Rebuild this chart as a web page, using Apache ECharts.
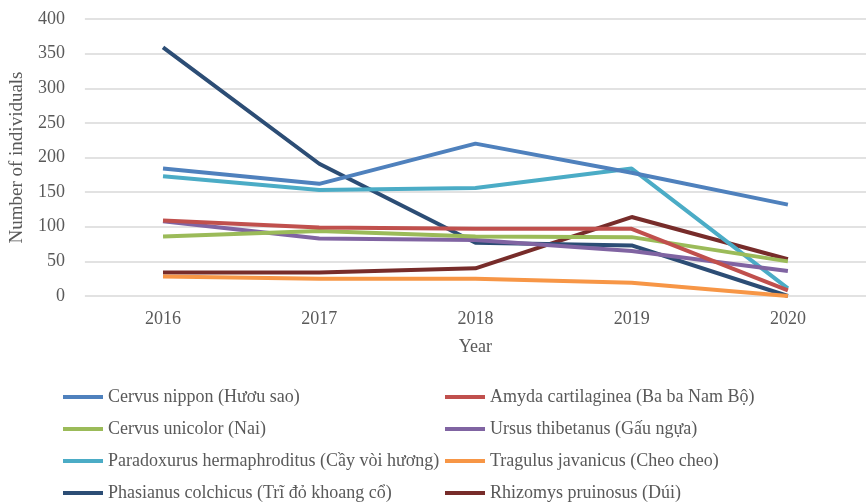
<!DOCTYPE html>
<html><head><meta charset="utf-8">
<script src="https://cdn.jsdelivr.net/npm/echarts@6/dist/echarts.min.js"></script>
<style>html,body{margin:0;padding:0;background:#fff}#c{width:866px;height:502px}</style>
</head><body><div id="c"></div>
<script>
var years = ['2016','2017','2018','2019','2020'];
var cervusNippon = [184,162,220,178,132];
var amyda = [109,99,97,97,8];
var cervusUnicolor = [86,94,86,85,50];
var ursus = [108,83,81,65,36];
var paradoxurus = [173,153,156,184,11];
var tragulus = [28,25,25,19,0];
var phasianus = [359,191,77,73,0];
var rhizomys = [34,34,40,114,53];
var names = ['Cervus nippon (Hươu sao)','Amyda cartilaginea (Ba ba Nam Bộ)','Cervus unicolor (Nai)','Ursus thibetanus (Gấu ngựa)','Paradoxurus hermaphroditus (Cầy vòi hương)','Tragulus javanicus (Cheo cheo)','Phasianus colchicus (Trĩ đỏ khoang cổ)','Rhizomys pruinosus (Dúi)'];
var dataSets = [cervusNippon,amyda,cervusUnicolor,ursus,paradoxurus,tragulus,phasianus,rhizomys];
var colors = ['#4F81BD','#C0504D','#9BBB59','#8064A2','#4BACC6','#F79646','#2C4D75','#772C2A'];
var font = 'Liberation Serif';
var txt = '#595959';
var series = names.map(function(n,i){
  return {name:n,type:'line',data:dataSets[i],showSymbol:false,symbol:'none',
    lineStyle:{width:4,color:colors[i]},itemStyle:{color:colors[i]},z:10-i};
});
var legendCommon = {orient:'vertical',icon:'rect',itemWidth:40,itemHeight:4,itemGap:14,padding:0,
  textStyle:{fontFamily:font,fontSize:18,color:txt,lineHeight:18},selectedMode:false,top:388};
var chart = echarts.init(document.getElementById('c'),null,{renderer:'canvas'});
chart.setOption({
  animation:false,
  color:colors,
  grid:{left:79,top:19,width:797,height:277,containLabel:false},
  xAxis:{type:'category',data:years,boundaryGap:true,name:'Year',nameLocation:'middle',nameGap:42,
    nameTextStyle:{fontFamily:font,fontSize:18,color:txt},
    axisLine:{show:false},axisTick:{show:false},
    axisLabel:{fontFamily:font,fontSize:18,color:txt,margin:14}},
  yAxis:{type:'value',min:0,max:400,interval:50,name:'Number of individuals',nameLocation:'middle',nameGap:49,
    nameTextStyle:{fontFamily:font,fontSize:19,color:txt},
    axisLine:{show:false},axisTick:{show:false},
    axisLabel:{fontFamily:font,fontSize:18,color:txt,margin:20},
    splitLine:{lineStyle:{color:'#d9d9d9',width:1.5}}},
  legend:[
    Object.assign({left:63,data:[names[0],names[2],names[4],names[6]]},legendCommon),
    Object.assign({left:445,data:[names[1],names[3],names[5],names[7]]},legendCommon)
  ],
  series:series
});
</script></body></html>
